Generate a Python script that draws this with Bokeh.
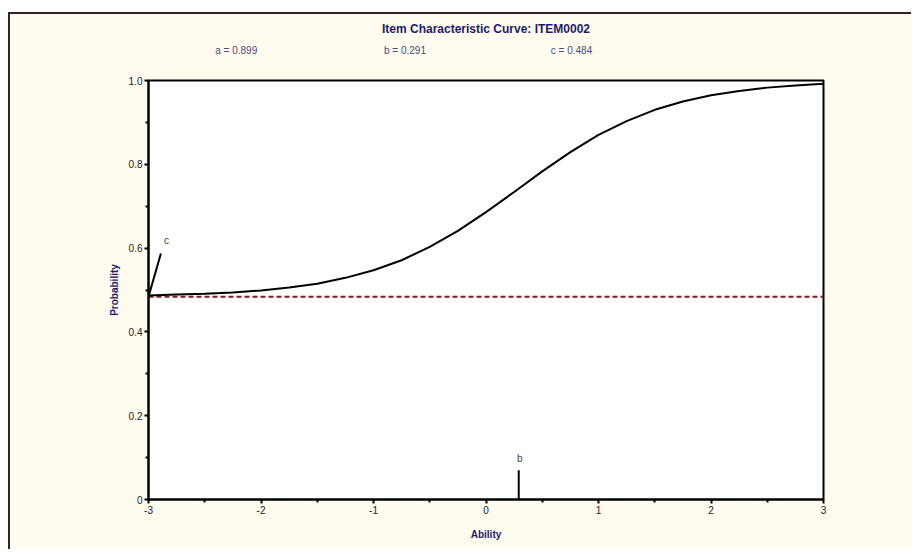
from bokeh.plotting import figure
from bokeh.models import Range1d, FixedTicker, Label, LinearAxis
from bokeh.embed import file_html
from bokeh.resources import INLINE

# ---- data ----
ability = [-3.0, -2.75, -2.5, -2.25, -2.0, -1.75, -1.5, -1.25, -1.0, -0.75, -0.5, -0.25,
           0.0, 0.25, 0.5, 0.75, 1.0, 1.25, 1.5, 1.75, 2.0, 2.25, 2.5, 2.75, 3.0]
probability = [0.487, 0.489, 0.491, 0.494, 0.499, 0.506, 0.515, 0.529, 0.547, 0.571, 0.603, 0.641,
               0.686, 0.734, 0.783, 0.829, 0.870, 0.903, 0.930, 0.950, 0.965, 0.975, 0.983, 0.988, 0.992]
param_a = 0.899
param_b = 0.291
param_c = 0.484
title_text = "Item Characteristic Curve: ITEM0002"
x_ticks = [-3, -2, -1, 0, 1, 2, 3]
x_tick_labels = ["-3", "-2", "-1", "0", "1", "2", "3"]
x_minor = [-2.5, -1.5, -0.5, 0.5, 1.5, 2.5]
y_ticks = [0, 0.2, 0.4, 0.6, 0.8, 1.0]
y_tick_labels = ["0", "0.2", "0.4", "0.6", "0.8", "1.0"]
y_minor = [0.1, 0.3, 0.5, 0.7, 0.9]

NAVY = "#1c1c6e"
CREAM = "#fffbef"
BORDER = "#3a1e1e"
FONT = "Liberation Sans"

p = figure(width=903, height=537, output_backend="svg", toolbar_location=None,
           x_range=Range1d(-3, 3), y_range=Range1d(0, 1), title=title_text)
p.margin = (12, 0, 0, 8)
p.styles = {"border-top": "2px solid " + BORDER, "border-left": "2px solid " + BORDER}
p.min_border_left = 138
p.min_border_right = 90
p.min_border_top = 66
p.min_border_bottom = 52
p.background_fill_color = "white"
p.border_fill_color = CREAM
p.outline_line_color = "black"
p.outline_line_width = 2
p.grid.visible = False

p.title.text_font = FONT
p.title.text_font_size = "12px"
p.title.text_font_style = "bold"
p.title.text_color = NAVY
p.title.align = "center"
p.title.standoff = 11

bottom_axis = p.below[0]
left_axis = p.left[0]

# axes
bottom_axis.ticker = FixedTicker(ticks=x_ticks, minor_ticks=x_minor)
left_axis.ticker = FixedTicker(ticks=y_ticks, minor_ticks=y_minor)
bottom_axis.major_label_overrides = {t: l for t, l in zip(x_ticks, x_tick_labels)}
left_axis.major_label_overrides = {t: l for t, l in zip(y_ticks, y_tick_labels)}
for ax in (bottom_axis, left_axis):
    ax.axis_line_width = 2
    ax.axis_line_color = "black"
    ax.major_tick_in = 0
    ax.major_tick_out = 4
    ax.minor_tick_in = 0
    ax.minor_tick_out = 3
    ax.major_tick_line_width = 2
    ax.minor_tick_line_width = 2
    ax.major_label_text_font = FONT
    ax.major_label_text_font_size = "10px"
    ax.major_label_text_color = "#222222"
    ax.axis_label_text_font = FONT
    ax.axis_label_text_font_size = "10px"
    ax.axis_label_text_font_style = "bold"
    ax.axis_label_text_color = NAVY
bottom_axis.axis_label = "Ability"
left_axis.axis_label = "Probability"
bottom_axis.major_label_standoff = 2
left_axis.major_label_standoff = 2
bottom_axis.axis_label_standoff = 12
left_axis.axis_label_standoff = 6

# parameter line above the plot, drawn as an unlined axis
param_pos = [-2.22, -0.72, 0.76]
param_txt = ["a = %.3f" % param_a, "b = %.3f" % param_b, "c = %.3f" % param_c]
top_axis = LinearAxis(ticker=FixedTicker(ticks=param_pos, minor_ticks=[]),
                      major_label_overrides={t: s for t, s in zip(param_pos, param_txt)})
top_axis.axis_line_alpha = 0
top_axis.major_tick_line_alpha = 0
top_axis.minor_tick_line_alpha = 0
top_axis.major_tick_out = 0
top_axis.minor_tick_out = 0
top_axis.major_label_standoff = 25
top_axis.major_label_text_font = FONT
top_axis.major_label_text_font_size = "10px"
top_axis.major_label_text_color = "#4a4a80"
p.add_layout(top_axis, "above")

# guessing asymptote
p.line([ability[0], ability[-1]], [param_c, param_c], line_color="#8b1c1c",
       line_width=2, line_dash="5 3")
# ICC
p.line(ability, probability, line_color="black", line_width=2)

# c marker
p.segment(x0=[ability[0]], y0=[param_c], x1=[ability[0] + 0.11], y1=[param_c + 0.103],
          line_color="black", line_width=2)
p.add_layout(Label(x=ability[0] + 0.16, y=param_c + 0.12, text="c", text_font=FONT,
                   text_font_size="10px", text_color="#444444", text_align="center",
                   text_baseline="bottom"))
# b marker
p.segment(x0=[param_b], y0=[0], x1=[param_b], y1=[0.07], line_color="black", line_width=2)
p.add_layout(Label(x=param_b + 0.01, y=0.085, text="b", text_font=FONT,
                   text_font_size="10px", text_color="#444444", text_align="center",
                   text_baseline="bottom"))

open("out.html", "w").write(file_html(p, INLINE))
